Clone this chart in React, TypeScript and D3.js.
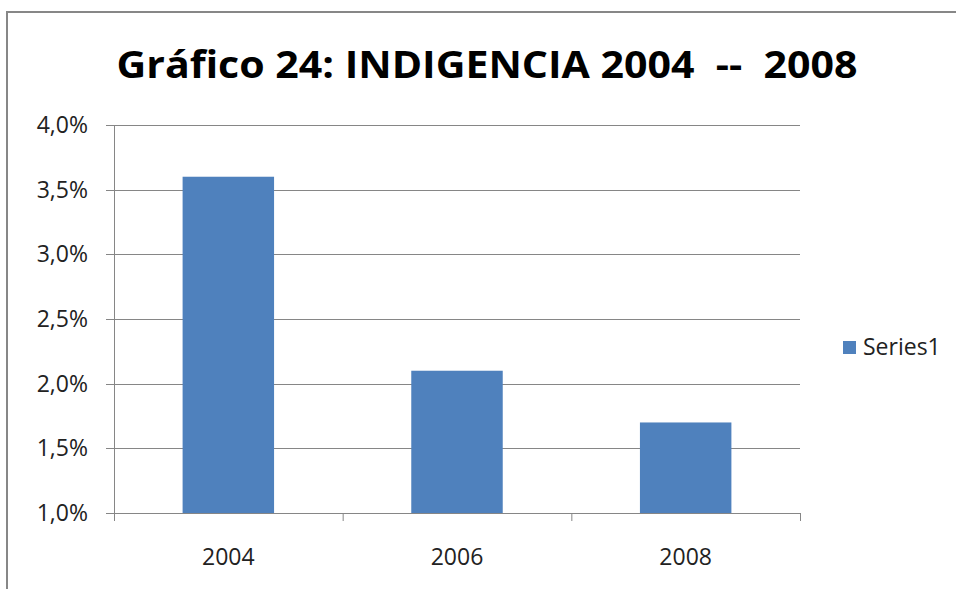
import * as d3 from "d3";
import { useEffect, useRef } from "react";

const years = ["2004", "2006", "2008"];
const values = [3.6, 2.1, 1.7];
const yTicks = [1.0, 1.5, 2.0, 2.5, 3.0, 3.5, 4.0];
const seriesName = "Series1";
const title = "Gráfico 24: INDIGENCIA 2004  --  2008";

const App = () => {
  const width = 956;
  const height = 589;
  const margin = { top: 125, bottom: 76, left: 114, right: 156 };
  const svgRef = useRef<SVGSVGElement | null>(null);

  useEffect(() => {
    if (!svgRef.current) return;
    const svg = d3.select(svgRef.current);
    svg.selectAll("*").remove();

    const plotWidth = width - margin.left - margin.right;
    const plotHeight = height - margin.top - margin.bottom;
    const font = "Open Sans, sans-serif";

    const x = d3.scaleBand(years, [0, plotWidth]).paddingInner(0.6).paddingOuter(0.3);
    const xOuter = d3.scaleBand(years, [0, plotWidth]);
    const y = d3.scaleLinear([1.0, 4.0], [plotHeight, 0]);

    // outer frame
    svg
      .append("rect")
      .attr("x", 7)
      .attr("y", 12)
      .attr("width", width)
      .attr("height", height)
      .attr("fill", "white")
      .attr("stroke", "#878787")
      .attr("stroke-width", 2);

    svg
      .append("text")
      .attr("x", 487)
      .attr("y", 78)
      .attr("text-anchor", "middle")
      .attr("font-family", font)
      .attr("font-weight", "bold")
      .attr("font-size", 38)
      .attr("textLength", 741)
      .attr("lengthAdjust", "spacingAndGlyphs")
      .style("white-space", "pre")
      .text(title);

    const plot = svg
      .append("g")
      .attr("transform", `translate(${margin.left}, ${margin.top})`);

    // gridlines
    plot
      .append("g")
      .selectAll("line")
      .data(yTicks)
      .join("line")
      .attr("x1", -8)
      .attr("x2", plotWidth)
      .attr("y1", (d) => Math.round(y(d)) + 0.5)
      .attr("y2", (d) => Math.round(y(d)) + 0.5)
      .attr("stroke", "#868686");

    plot
      .append("g")
      .selectAll("text")
      .data(yTicks)
      .join("text")
      .attr("x", -26)
      .attr("y", (d) => y(d) + 8)
      .attr("text-anchor", "end")
      .attr("font-family", font)
      .attr("font-size", 23)
      .attr("fill", "#222")
      .text((d) => d.toFixed(1).replace(".", ",") + "%");

    // bars
    plot
      .append("g")
      .selectAll("rect")
      .data(values)
      .join("rect")
      .attr("x", (d, i) => x(years[i]) as number)
      .attr("y", (d) => y(d))
      .attr("width", x.bandwidth())
      .attr("height", (d) => plotHeight - y(d))
      .attr("fill", "#4F81BD");

    // axes lines
    plot
      .append("line")
      .attr("x1", 0.5)
      .attr("x2", 0.5)
      .attr("y1", 0)
      .attr("y2", plotHeight + 8)
      .attr("stroke", "#868686");

    plot
      .append("g")
      .selectAll("line")
      .data(years)
      .join("line")
      .attr("x1", (d) => (xOuter(d) as number) + xOuter.bandwidth() + 0.5)
      .attr("x2", (d) => (xOuter(d) as number) + xOuter.bandwidth() + 0.5)
      .attr("y1", plotHeight)
      .attr("y2", plotHeight + 8)
      .attr("stroke", "#868686");

    plot
      .append("g")
      .selectAll("text")
      .data(years)
      .join("text")
      .attr("x", (d) => (xOuter(d) as number) + xOuter.bandwidth() / 2)
      .attr("y", plotHeight + 52)
      .attr("text-anchor", "middle")
      .attr("font-family", font)
      .attr("font-size", 23)
      .attr("fill", "#222")
      .text((d) => d);

    // legend
    const legend = svg.append("g").attr("transform", "translate(843, 341)");
    legend.append("rect").attr("width", 13).attr("height", 13).attr("fill", "#4F81BD");
    legend
      .append("text")
      .attr("x", 20)
      .attr("y", 14)
      .attr("font-family", font)
      .attr("font-size", 23)
      .attr("fill", "#222")
      .text(seriesName);
  }, []);

  return (
    <svg
      width={width}
      height={height}
      ref={svgRef}
      style={{ position: "absolute", left: 0, top: 0 }}
    ></svg>
  );
};

export default App;
